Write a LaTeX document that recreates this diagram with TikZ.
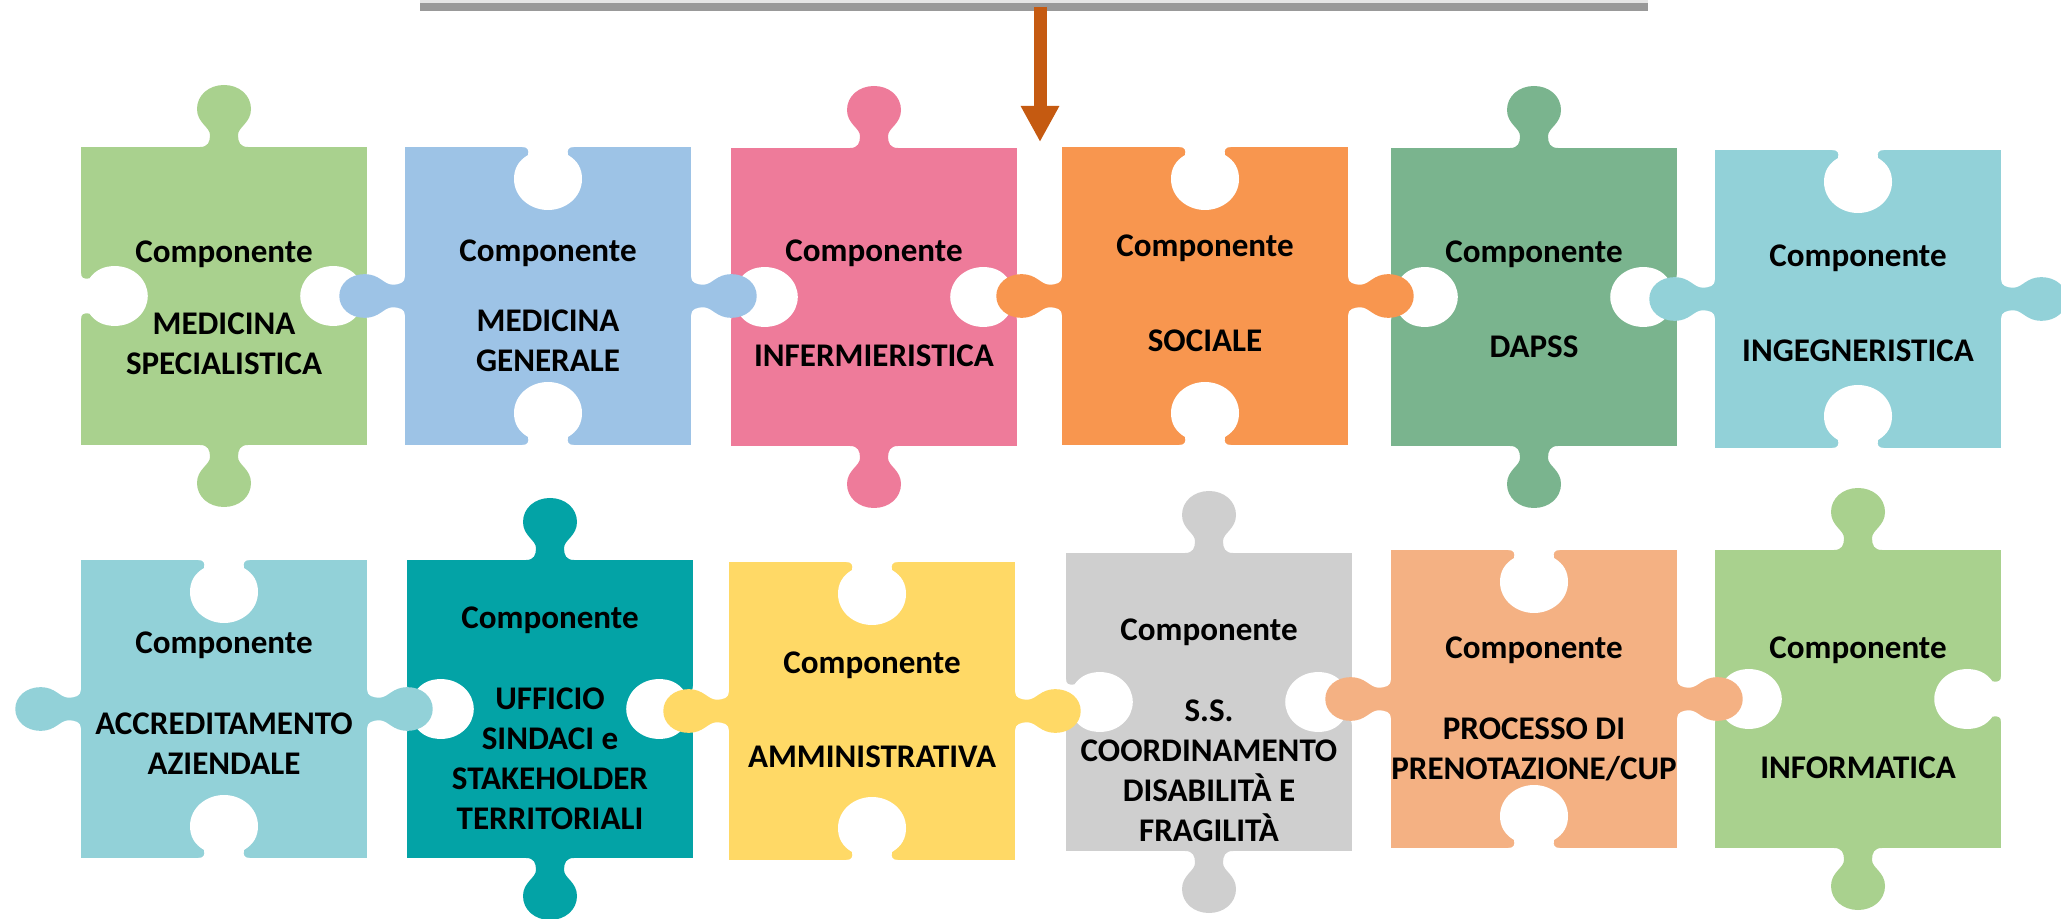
\documentclass[tikz,border=0pt]{standalone}
\usepackage{fontspec}
\setmainfont{Carlito}
\usetikzlibrary{arrows.meta}

\definecolor{verde}{HTML}{A9D18E}
\definecolor{azzurro}{HTML}{9DC3E6}
\definecolor{rosa}{HTML}{EE7B9A}
\definecolor{arancio}{HTML}{F8964F}
\definecolor{verdescuro}{HTML}{7AB48E}
\definecolor{turchese}{HTML}{92D1D8}
\definecolor{petrolio}{HTML}{03A3A6}
\definecolor{giallo}{HTML}{FFD966}
\definecolor{grigio}{HTML}{CFCFCF}
\definecolor{pesca}{HTML}{F4B183}
\definecolor{freccia}{HTML}{C55A11}

\tikzset{
  knobV/.style={xscale=1, yscale=1},
  knobH/.style={xscale=0.81, yscale=1.06},
  holeV/.style={xscale=1, yscale=1},
  holeH/.style={xscale=0.88, yscale=1.06},
  comp/.style={font=\bfseries\fontsize{9.4}{11.4}\selectfont, inner sep=0pt, anchor=base},
  area/.style={font=\bfseries\fontsize{9.4}{11.4}\selectfont, inner sep=0pt, anchor=north, align=center},
}

% one tab: colour, x, y, rotation, shape
\newcommand{\puzzletab}[5]{%
  \fill[#1, shift={(#2,#3)}, rotate=#4, #5]
    (-24,-3) -- (-24,0) .. controls (-16,0) and (-14,5) .. (-14,12)
    .. controls (-14,20) and (-27,24) .. (-27,38)
    .. controls (-27,52) and (-15,62) .. (0,62)
    .. controls (15,62) and (27,52) .. (27,38)
    .. controls (27,24) and (14,20) .. (14,12)
    .. controls (14,5) and (16,0) .. (24,0) -- (24,-3) -- cycle;}

% one hole: x, y, rotation, shape
\newcommand{\puzzlehole}[4]{%
  \fill[white, shift={(#1,#2)}, rotate=#3, #4]
    (-26,-3) -- (-26,0) .. controls (-20,0) and (-19,3) .. (-20,8)
    .. controls (-30,14) and (-34,22) .. (-34,32)
    .. controls (-34,50) and (-18,63) .. (0,63)
    .. controls (18,63) and (34,50) .. (34,32)
    .. controls (34,22) and (30,14) .. (20,8)
    .. controls (19,3) and (20,0) .. (26,0) -- (26,-3) -- cycle;}

% type A: knobs top and bottom, holes left and right
\newcommand{\pieceA}[3]{%
  \fill[#1] (#2,#3) rectangle ++(286,298);
  \puzzlehole{#2}{#3+149}{90}{holeH}
  \puzzlehole{#2+286}{#3+149}{-90}{holeH}}
\newcommand{\knobsA}[3]{%
  \puzzletab{#1}{#2+143}{#3}{180}{knobV}
  \puzzletab{#1}{#2+143}{#3+298}{0}{knobV}}

% type B: holes top and bottom, knobs left and right
\newcommand{\pieceB}[3]{%
  \fill[#1] (#2,#3) rectangle ++(286,298);
  \puzzlehole{#2+143}{#3}{0}{holeV}
  \puzzlehole{#2+143}{#3+298}{180}{holeV}}
\newcommand{\knobsB}[3]{%
  \puzzletab{#1}{#2}{#3+149}{-90}{knobH}
  \puzzletab{#1}{#2+286}{#3+149}{90}{knobH}}

\begin{document}
\begin{tikzpicture}[x=0.01cm, y=-0.01cm]
	\useasboundingbox (0,0) rectangle (2061,919);

	% top bar and arrow
	\coordinate (barL) at (420,7);
	\coordinate (barR) at (1648,7);
	\fill[black!10] (420,0) rectangle (1648,3);
	\draw[line width=0.08cm, black!40] (barL) -- (barR);
	\coordinate (arrowtop) at (1040,7);
	\coordinate (arrowtip) at (1040,142);
	\draw[line width=0.13cm, freccia, -{Triangle[length=0.36cm, width=0.36cm]}] (arrowtop) -- (arrowtip);

	% bodies and holes
	\pieceA{verde}{81}{147}
	\pieceB{azzurro}{405}{147}
	\pieceA{rosa}{731}{148}
	\pieceB{arancio}{1062}{147}
	\pieceA{verdescuro}{1391}{148}
	\pieceB{turchese}{1715}{150}
	\pieceB{turchese}{81}{560}
	\pieceA{petrolio}{407}{560}
	\pieceB{giallo}{729}{562}
	\pieceA{grigio}{1066}{553}
	\pieceB{pesca}{1391}{550}
	\pieceA{verde}{1715}{550}

	% knobs
	\knobsA{verde}{81}{147}
	\knobsB{azzurro}{405}{147}
	\knobsA{rosa}{731}{148}
	\knobsB{arancio}{1062}{147}
	\knobsA{verdescuro}{1391}{148}
	\knobsB{turchese}{1715}{150}
	\knobsB{turchese}{81}{560}
	\knobsA{petrolio}{407}{560}
	\knobsB{giallo}{729}{562}
	\knobsA{grigio}{1066}{553}
	\knobsB{pesca}{1391}{550}
	\knobsA{verde}{1715}{550}

	% texts, first row
	\node[comp] (c1) at (224,263) {Componente};
	\node[area] (a1) at (224,312) {MEDICINA\\SPECIALISTICA};
	\node[comp] (c2) at (548,262) {Componente};
	\node[area] (a2) at (548,309) {MEDICINA\\GENERALE};
	\node[comp] (c3) at (874,262) {Componente};
	\node[area] (a3) at (874,344) {INFERMIERISTICA};
	\node[comp] (c4) at (1205,257) {Componente};
	\node[area] (a4) at (1205,329) {SOCIALE};
	\node[comp] (c5) at (1534,263) {Componente};
	\node[area] (a5) at (1534,335) {DAPSS};
	\node[comp] (c6) at (1858,267) {Componente};
	\node[area] (a6) at (1858,339) {INGEGNERISTICA};

	% texts, second row
	\node[comp] (c7) at (224,653) {Componente};
	\node[area] (a7) at (224,712) {ACCREDITAMENTO\\AZIENDALE};
	\node[comp] (c8) at (550,629) {Componente};
	\node[area] (a8) at (550,687) {UFFICIO\\SINDACI e\\STAKEHOLDER\\TERRITORIALI};
	\node[comp] (c9) at (872,673) {Componente};
	\node[area] (a9) at (872,745) {AMMINISTRATIVA};
	\node[comp] (c10) at (1209,640) {Componente};
	\node[area] (a10) at (1209,699) {S.S.\\COORDINAMENTO\\DISABILITÀ E\\FRAGILITÀ};
	\node[comp] (c11) at (1534,658) {Componente};
	\node[area] (a11) at (1534,717) {PROCESSO DI\\PRENOTAZIONE/CUP};
	\node[comp] (c12) at (1858,658) {Componente};
	\node[area] (a12) at (1858,756) {INFORMATICA};
\end{tikzpicture}
\end{document}
